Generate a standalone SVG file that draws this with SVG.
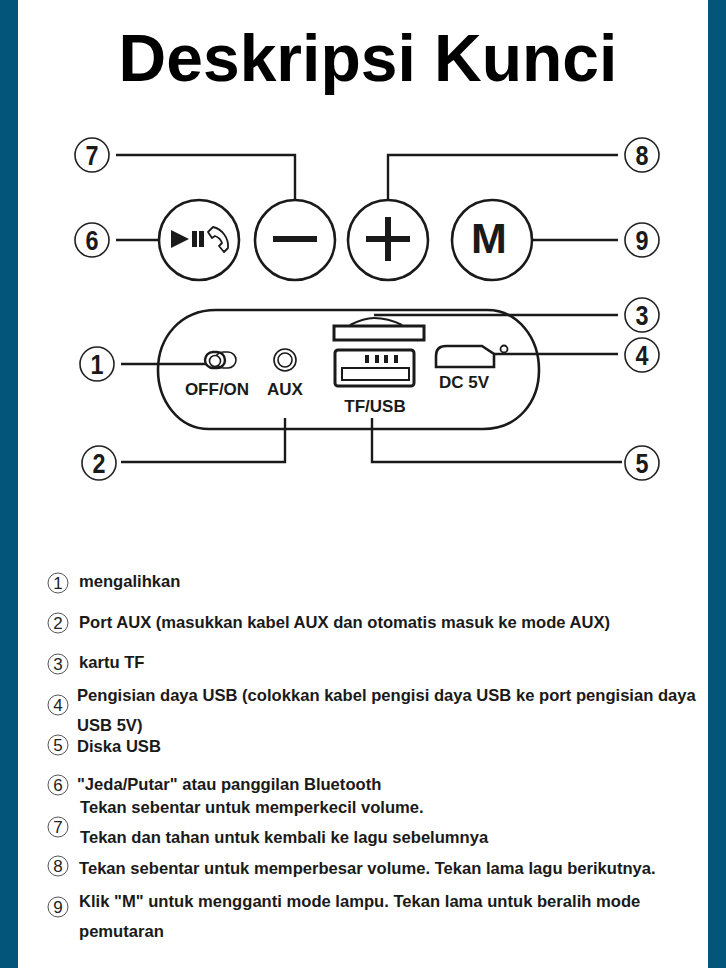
<svg xmlns="http://www.w3.org/2000/svg" width="726" height="968" viewBox="0 0 726 968">
<style>
text{font-family:"Liberation Sans",Arial,sans-serif;fill:#1a1a1a}
.b{font-weight:700}
.n{font-size:27px;text-anchor:middle;font-weight:700}
.num{fill:#fff;stroke:#222;stroke-width:1.6}
.btn{fill:#fff;stroke:#1a1a1a;stroke-width:2.6}
.ln{fill:none;stroke:#1a1a1a;stroke-width:2.4}
.t{font-size:16.6px;font-weight:700}
.d{font-size:17px;font-weight:700;text-anchor:middle}
.lc{fill:#fff;stroke:#555;stroke-width:1}
.ln2{font-size:17px;text-anchor:middle;fill:#222}
.dv{fill:none;stroke:#1a1a1a;stroke-width:2.6}
</style>
<rect width="726" height="968" fill="#fff"/>
<rect x="0" y="0" width="18" height="968" fill="#03557a"/>
<rect x="708" y="0" width="18" height="968" fill="#03557a"/>
<text x="368" y="81" font-size="66" class="b" text-anchor="middle" style="fill:#000">Deskripsi Kunci</text>

<g id="device">
<path class="dv" d="M216 310H487C518 310 539 338 539 370C539 402 518 429 483 429H209C178 429 158 400 158 370C158 338 180 310 216 310Z"/>
<rect x="205" y="352" width="20" height="16" rx="8" fill="#fff" stroke="#1a1a1a" stroke-width="2.4"/>
<rect x="215" y="352" width="21" height="16" rx="8" fill="none" stroke="#1a1a1a" stroke-width="1.6"/>
<circle cx="215" cy="361" r="5.500" fill="#fff" stroke="#1a1a1a" stroke-width="1.6"/>
<circle cx="285" cy="360" r="11" fill="#fff" stroke="#1a1a1a" stroke-width="1.6"/>
<circle cx="285" cy="360" r="7" fill="#fff" stroke="#1a1a1a" stroke-width="1.6"/>
<text class="d" x="217" y="395">OFF/ON</text>
<text class="d" x="285" y="395">AUX</text>
<path d="M350 325C360 320 367 318 374 318C382 318 392 320 402 325" fill="none" stroke="#1a1a1a" stroke-width="2"/>
<rect x="334" y="326" width="90" height="14" fill="#fff" stroke="#1a1a1a" stroke-width="3"/>
<rect x="335" y="350" width="79" height="36" rx="3" fill="#fff" stroke="#1a1a1a" stroke-width="3"/>
<rect x="342" y="368" width="67" height="12" fill="#fff" stroke="#1a1a1a" stroke-width="2"/>
<path d="M365 355h4v8h-4zM375 355h4v8h-4zM384 355h4v8h-4zM394 355h4v8h-4z" fill="#1a1a1a"/>
<text class="d" x="375" y="412">TF/USB</text>
<path d="M436 367V356Q436 346 446 346H482L494 354V367Z" fill="#fff" stroke="#1a1a1a" stroke-width="2.6"/>
<circle cx="504" cy="349" r="3.500" fill="#fff" stroke="#1a1a1a" stroke-width="1.8"/>
<text class="d" x="464" y="388">DC 5V</text>
</g>

<g id="connectors">
<path class="ln" d="M116 155H295V200"/>
<path class="ln" d="M116 240H160"/>
<path class="ln" d="M388 199V155H618"/>
<path class="ln" d="M533 240H618"/>
<path class="ln" d="M374 315H618"/>
<path class="ln" d="M494 354H618"/>
<path class="ln" d="M121 364H206"/>
<path class="ln" d="M121 462H285V418"/>
<path class="ln" d="M372 418V462H622"/>
</g>

<g id="btn-play"><circle class="btn" cx="199" cy="240" r="40"/>
<path d="M171 230L189 239L171 248Z" fill="#1a1a1a"/><path d="M192 231h5v16h-5zM199 231h5v16h-5z" fill="#1a1a1a"/>
<path d="M208 232L213 227C222 229 229 238 228 248L224 252L219 246L222 243C221 240 218 237 215 236L212 238Z" fill="none" stroke="#1a1a1a" stroke-width="1.8" stroke-linejoin="round"/></g>
<g id="btn-minus"><circle class="btn" cx="295" cy="240" r="40"/><rect x="273" y="236" width="44" height="6" fill="#1a1a1a"/></g>
<g id="btn-plus"><circle class="btn" cx="388" cy="240" r="40"/><rect x="366" y="236" width="44" height="6" fill="#1a1a1a"/><rect x="385" y="217" width="6" height="44" fill="#1a1a1a"/></g>
<g id="btn-m"><circle class="btn" cx="492" cy="240" r="40"/><text x="489" y="253" font-size="43" class="b" text-anchor="middle">M</text></g>

<g id="num-7"><circle class="num" cx="92" cy="155" r="17"/><text class="n" x="92" y="165" textLength="13" lengthAdjust="spacingAndGlyphs">7</text></g>
<g id="num-6"><circle class="num" cx="92" cy="240" r="17"/><text class="n" x="92" y="250" textLength="13" lengthAdjust="spacingAndGlyphs">6</text></g>
<g id="num-8"><circle class="num" cx="642" cy="155" r="17"/><text class="n" x="642" y="165" textLength="13" lengthAdjust="spacingAndGlyphs">8</text></g>
<g id="num-9"><circle class="num" cx="642" cy="240" r="17"/><text class="n" x="642" y="250" textLength="13" lengthAdjust="spacingAndGlyphs">9</text></g>
<g id="num-3"><circle class="num" cx="642" cy="315" r="17"/><text class="n" x="642" y="325" textLength="13" lengthAdjust="spacingAndGlyphs">3</text></g>
<g id="num-4"><circle class="num" cx="642" cy="355" r="17"/><text class="n" x="642" y="365" textLength="13" lengthAdjust="spacingAndGlyphs">4</text></g>
<g id="num-5"><circle class="num" cx="642" cy="463" r="17"/><text class="n" x="642" y="473" textLength="13" lengthAdjust="spacingAndGlyphs">5</text></g>
<g id="num-1"><circle class="num" cx="97" cy="364" r="17"/><text class="n" x="97" y="374" textLength="13" lengthAdjust="spacingAndGlyphs">1</text></g>
<g id="num-2"><circle class="num" cx="99" cy="463" r="17"/><text class="n" x="99" y="473" textLength="13" lengthAdjust="spacingAndGlyphs">2</text></g>

<g id="legend">
<circle class="lc" cx="58" cy="583" r="10"/><text class="ln2" x="58" y="589">1</text>
<text class="t" x="79" y="587">mengalihkan</text>
<circle class="lc" cx="58" cy="623" r="10"/><text class="ln2" x="58" y="629">2</text>
<text class="t" x="79" y="628">Port AUX (masukkan kabel AUX dan otomatis masuk ke mode AUX)</text>
<circle class="lc" cx="58" cy="664" r="10"/><text class="ln2" x="58" y="670">3</text>
<text class="t" x="79" y="668">kartu TF</text>
<circle class="lc" cx="58" cy="705" r="10"/><text class="ln2" x="58" y="711">4</text>
<text class="t" x="77" y="701">Pengisian daya USB (colokkan kabel pengisi daya USB ke port pengisian daya</text>
<text class="t" x="77" y="731">USB 5V)</text>
<circle class="lc" cx="58" cy="745" r="10"/><text class="ln2" x="58" y="751">5</text>
<text class="t" x="77" y="752">Diska USB</text>
<circle class="lc" cx="58" cy="785" r="10"/><text class="ln2" x="58" y="791">6</text>
<text class="t" x="77" y="790">"Jeda/Putar" atau panggilan Bluetooth</text>
<text class="t" x="80" y="813">Tekan sebentar untuk memperkecil volume.</text>
<circle class="lc" cx="58" cy="827" r="10"/><text class="ln2" x="58" y="833">7</text>
<text class="t" x="80" y="843">Tekan dan tahan untuk kembali ke lagu sebelumnya</text>
<circle class="lc" cx="58" cy="866" r="10"/><text class="ln2" x="58" y="872">8</text>
<text class="t" x="79" y="874">Tekan sebentar untuk memperbesar volume. Tekan lama lagu berikutnya.</text>
<circle class="lc" cx="58" cy="907" r="10"/><text class="ln2" x="58" y="913">9</text>
<text class="t" x="79" y="907">Klik "M" untuk mengganti mode lampu. Tekan lama untuk beralih mode</text>
<text class="t" x="79" y="937">pemutaran</text>
</g>
</svg>
